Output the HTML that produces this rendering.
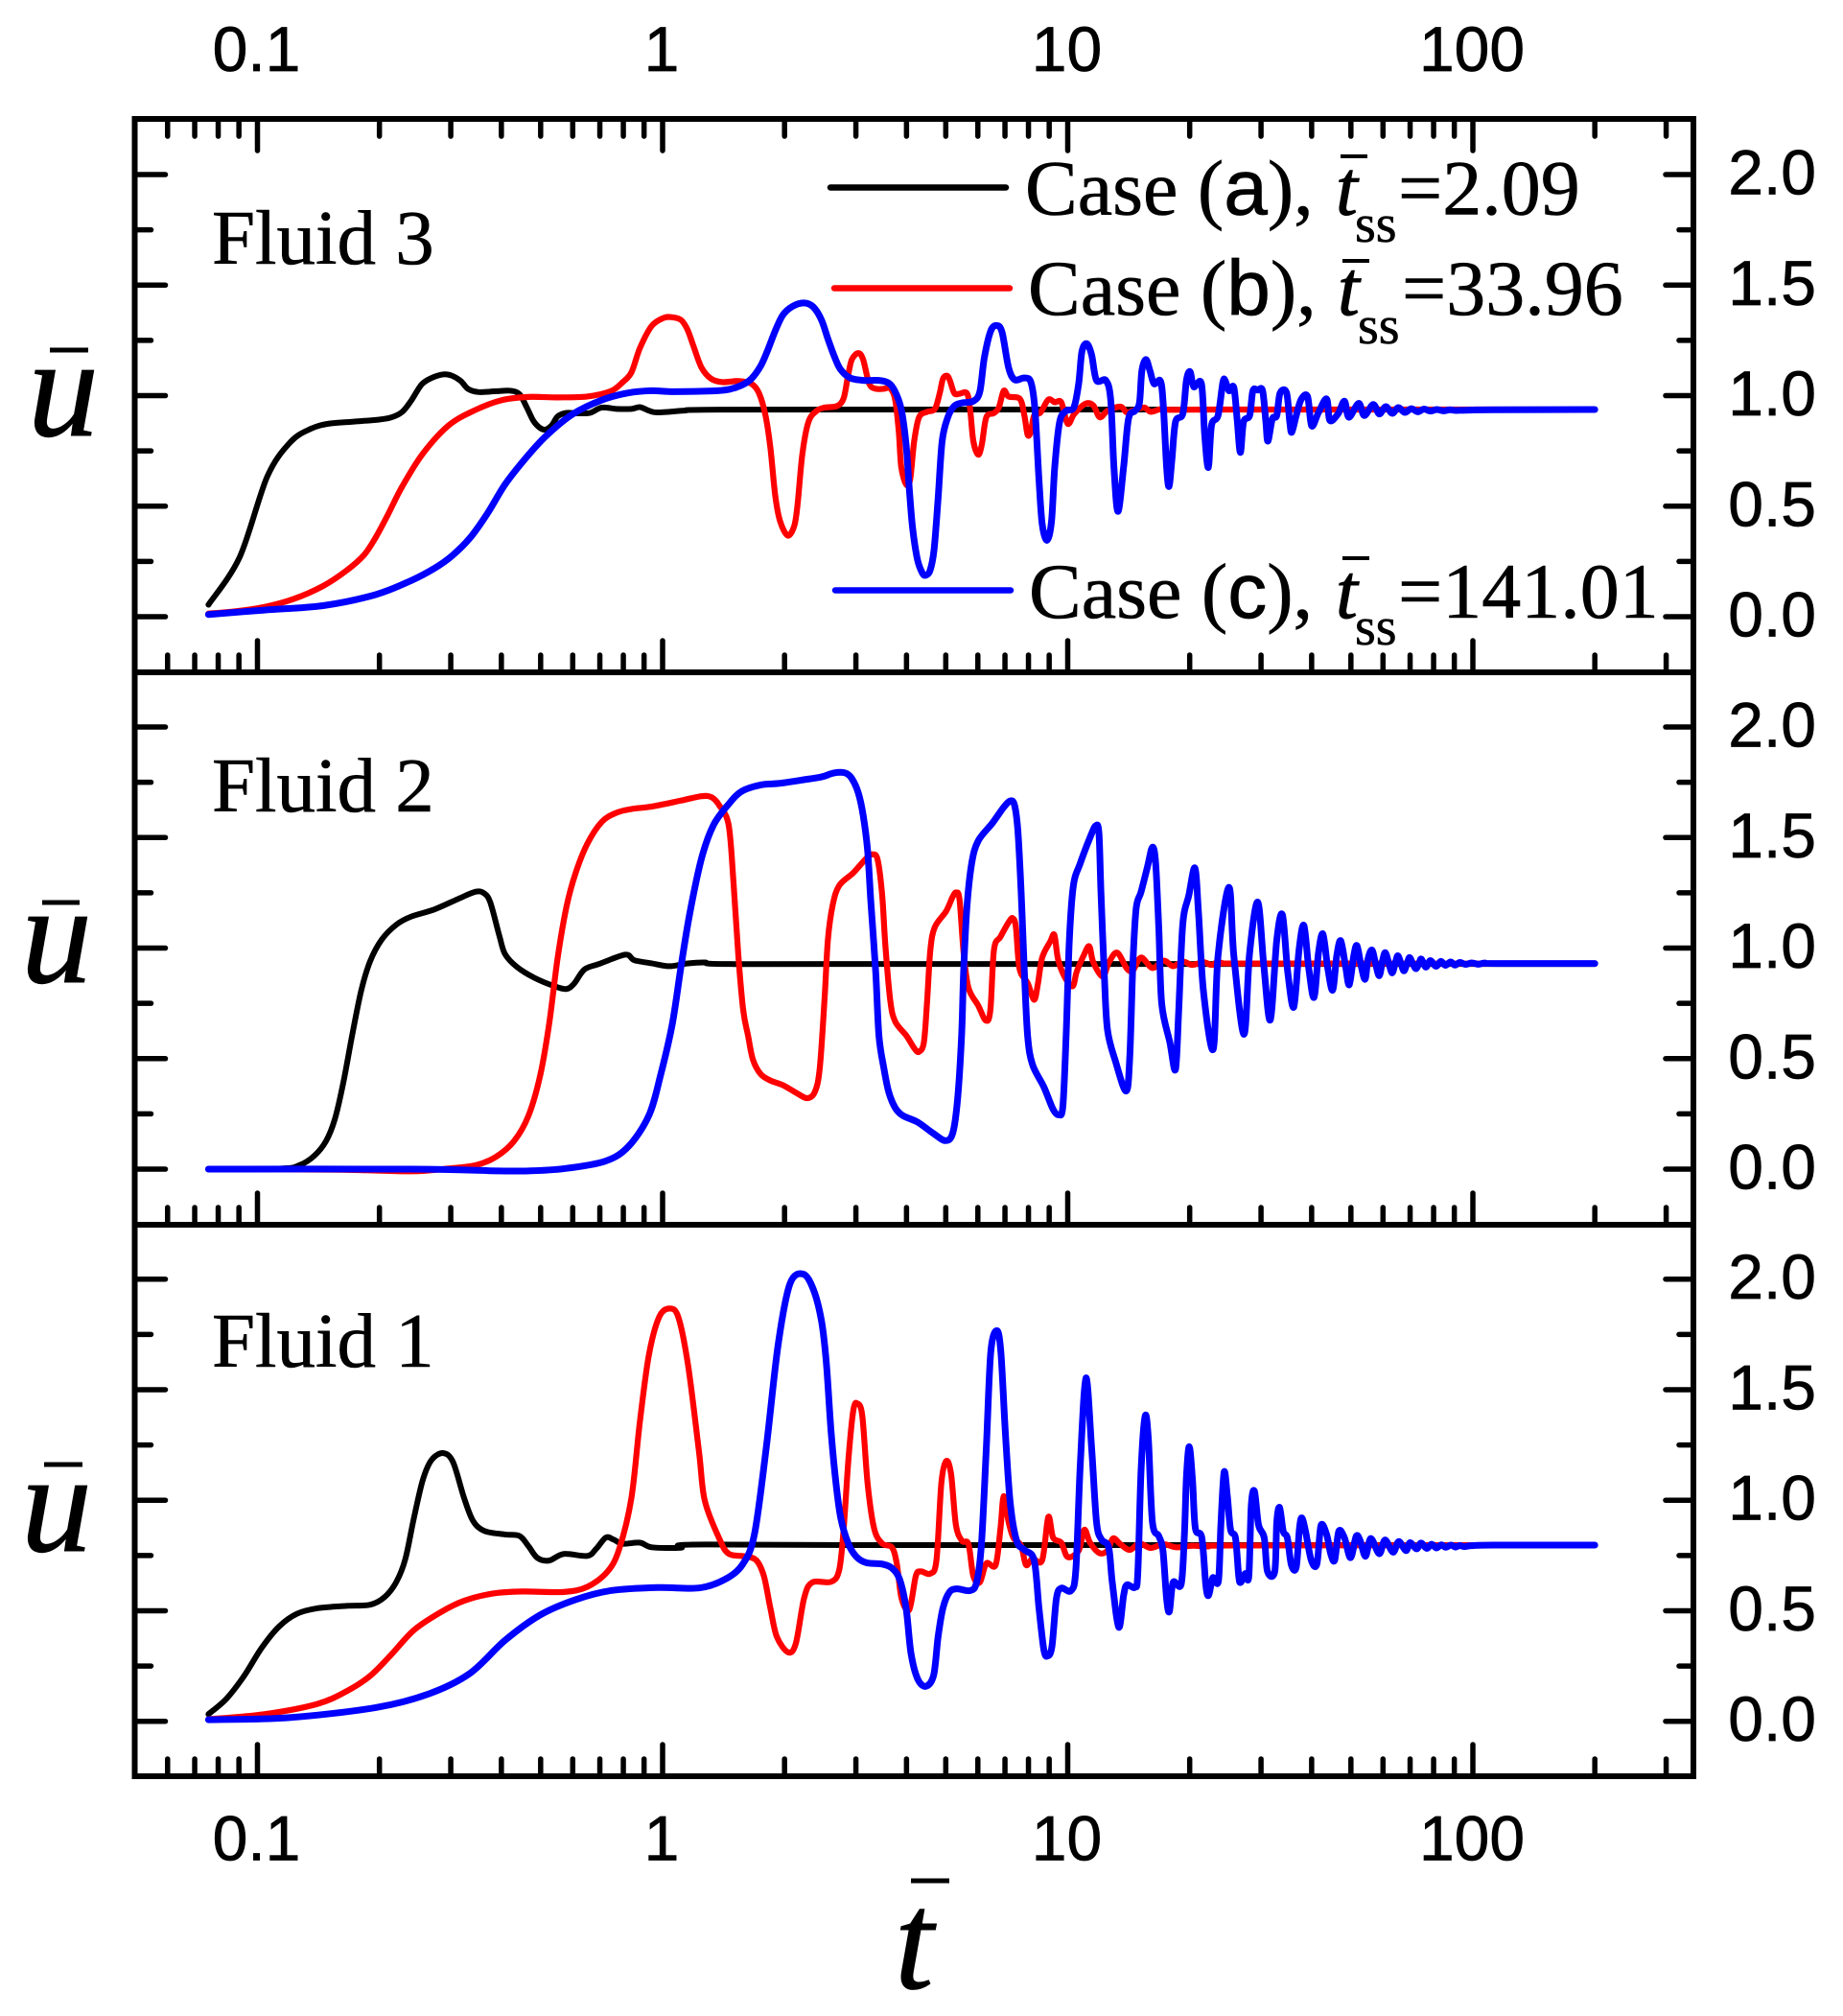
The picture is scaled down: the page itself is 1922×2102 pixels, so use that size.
<!DOCTYPE html>
<html lang="en">
<head>
<meta charset="utf-8">
<title>Velocity response of Fluids 1-3</title>
<style>
html,body{margin:0;padding:0;background:#fff;}
svg{display:block;}
.sans{font-family:"Liberation Sans",Arial,sans-serif;fill:#000;stroke:#000;stroke-width:.7px;}
.serif{font-family:"Liberation Serif","Times New Roman",serif;fill:#000;stroke:#000;stroke-width:.6px;}
.ital{font-family:"Liberation Serif","Times New Roman",serif;font-style:italic;fill:#000;stroke:#000;stroke-width:1px;}
</style>
</head>
<body>
<svg id="chart" xmlns="http://www.w3.org/2000/svg" width="1922" height="2102" viewBox="0 0 1922 2102">
  <rect x="0" y="0" width="1922" height="2102" fill="#fff"/>
  <g id="curves"></g>
  <g id="frames"></g>
  <g id="ticks"></g>
  <g id="ticklabels"></g>

  <text class="serif" x="221" y="275" font-size="81">Fluid 3</text>
  <text class="serif" x="221" y="846" font-size="81">Fluid 2</text>
  <text class="serif" x="221" y="1425" font-size="81">Fluid 1</text>

  <g>
    <text class="ital" x="29" y="454" font-size="148">u</text>
    <line x1="52" y1="365" x2="92" y2="365" stroke="#000" stroke-width="5"/>
  </g>
  <g>
    <text class="ital" x="22" y="1024" font-size="148">u</text>
    <line x1="44" y1="941" x2="83" y2="941" stroke="#000" stroke-width="5"/>
  </g>
  <g>
    <text class="ital" x="22" y="1617" font-size="148">u</text>
    <line x1="46" y1="1527" x2="86" y2="1527" stroke="#000" stroke-width="5"/>
  </g>
  <g>
    <text class="ital" x="933" y="2073" font-size="146">t</text>
    <line x1="950" y1="1961" x2="990" y2="1961" stroke="#000" stroke-width="5"/>
  </g>

  <g>
    <g>
      <line x1="866" y1="195.5" x2="1049" y2="195.5" stroke="#000" stroke-width="6.5" stroke-linecap="round"/>
      <text class="serif" x="1069" y="223.5" font-size="82">Case (<tspan class="sans">a</tspan>),</text>
      <text class="ital" x="1393" y="223.5" font-size="82">t</text>
      <line x1="1398" y1="163" x2="1426" y2="163" stroke="#000" stroke-width="4"/>
      <text class="serif" x="1413" y="252" font-size="56">ss</text>
      <text class="serif" x="1458" y="223.5" font-size="82">=2.09</text>
    </g>
    <g>
      <line x1="870" y1="300.5" x2="1053" y2="300.5" stroke="#f00" stroke-width="6.5" stroke-linecap="round"/>
      <text class="serif" x="1072" y="328" font-size="82">Case (<tspan class="sans">b</tspan>),</text>
      <text class="ital" x="1395" y="328" font-size="82">t</text>
      <line x1="1400" y1="272" x2="1428" y2="272" stroke="#000" stroke-width="4"/>
      <text class="serif" x="1416" y="358" font-size="56">ss</text>
      <text class="serif" x="1462" y="328" font-size="82">=33.96</text>
    </g>
    <g>
      <line x1="871" y1="615.5" x2="1054" y2="615.5" stroke="#00f" stroke-width="6.5" stroke-linecap="round"/>
      <text class="serif" x="1073" y="644" font-size="82">Case (<tspan class="sans">c</tspan>),</text>
      <text class="ital" x="1393" y="644" font-size="82">t</text>
      <line x1="1400" y1="582" x2="1428" y2="582" stroke="#000" stroke-width="4"/>
      <text class="serif" x="1413" y="672" font-size="56">ss</text>
      <text class="serif" x="1458" y="644" font-size="82">=141.01</text>
    </g>
  </g>
</svg>

<script>
// ---- tick data ----
const xMajorTicks = [0.1, 1, 10, 100];
const xMajorLabels = ['0.1', '1', '10', '100'];
const xMinorTicks = [0.06,0.07,0.08,0.09,0.2,0.3,0.4,0.5,0.6,0.7,0.8,0.9,2,3,4,5,6,7,8,9,20,30,40,50,60,70,80,90,200,300];
const yMajorTicks = [0, 0.5, 1, 1.5, 2];
const yMajorLabels = ['0.0', '0.5', '1.0', '1.5', '2.0'];
const yMinorTicks = [0.25, 0.75, 1.25, 1.75];

// ---- Fluid 3 (log10 of t, and u) ----
const f3aLogT = [-1.121,-1.044,-.976,-.918,-.867,-.824,-.766,-.708,-.672,-.643,-.621,-.595,-.570,-.541,-.520,-.498,-.480,-.454,-.411,-.375,-.353,-.335,-.319,-.302,-.288,-.273,-.259,-.237,-.208,-.179,-.150,-.114,-.077,-.056,-.034,-.012,.053,.104,.5,2.301];
const f3aU    = [.054,.269,.633,.791,.851,.873,.882,.890,.900,.926,.976,1.05,1.08,1.096,1.09,1.066,1.03,1.016,1.02,1.022,1.006,.946,.886,.853,.847,.867,.906,.922,.920,.922,.946,.940,.940,.948,.932,.924,.932,.936,.937,.937];

const f3bLogT = [-1.121,-1.056,-.983,-.911,-.838,-.780,-.737,-.708,-.679,-.643,-.592,-.527,-.461,-.396,-.331,-.259,-.186,-.128,-.099,-.077,-.056,-.027,.002,.021,.045,.061,.077,.096,.120,.148,.187,.219,.238,.254,.266,.278,.290,.309,.325,.333,.345,.360,.380,.400,.431,.447,.457,.467,.483,.495,.510,.526,.546,.562,.574,.583,.589,.601,.611,.621,.633,.653,.672,.684,.692,.702,.709,.720,.732,.751,.759,.767,.779,.788,.799,.818,.830,.842,.854,.882,.893,.901,.909,.917,.933,.952,.968,.984,1.0,1.016,1.043,1.063,1.079,1.098,1.13,1.146,1.166,1.189,1.205,1.229,1.252,1.4,2.301];
const f3bU    = [.014,.024,.044,.08,.139,.209,.279,.359,.458,.588,.737,.867,.936,.980,.994,.992,.996,1.02,1.06,1.105,1.215,1.315,1.351,1.355,1.343,1.30,1.22,1.127,1.076,1.061,1.066,1.054,1.011,.91,.765,.548,.432,.367,.411,.505,.736,.881,.931,.946,.953,.989,1.083,1.163,1.192,1.163,1.054,1.031,1.031,1.033,.982,.837,.678,.599,.620,.794,.902,.927,.939,1.011,1.076,1.09,1.069,1.011,1.008,1.011,.939,.794,.733,.779,.902,.921,.946,1.022,.996,.985,.91,.823,.837,.91,.924,.982,.97,.97,.873,.917,.963,.956,.902,.931,.95,.924,.936,.946,.927,.939,.936,.937,.937];

const f3cLogT = [-1.121,-.983,-.838,-.708,-.621,-.563,-.52,-.476,-.432,-.389,-.338,-.288,-.222,-.15,-.085,-.027,.021,.124,.163,.195,.219,.242,.258,.278,.297,.321,.349,.372,.392,.408,.424,.439,.463,.495,.534,.558,.574,.589,.601,.609,.617,.629,.641,.649,.660,.670,.680,.69,.704,.72,.739,.767,.783,.794,.81,.825,.838,.854,.869,.893,.909,.919,.929,.937,.949,.96,.968,.98,.996,1.015,1.027,1.035,1.047,1.059,1.071,1.094,1.106,1.114,1.124,1.138,1.15,1.166,1.177,1.183,1.193,1.203,1.213,1.229,1.236,1.244,1.25,1.257,1.266,1.284,1.293,1.302,1.311,1.33,1.338,1.347,1.355,1.371,1.383,1.389,1.398,1.41,1.418,1.426,1.434,1.449,1.457,1.469,1.481,1.489,1.494,1.505,1.516,1.524,1.54,1.548,1.553,1.564,1.576,1.592,1.602,1.619,1.639,1.647,1.667,1.683,1.694,1.718,1.732,1.754,1.769,1.785,1.801,1.816,1.832,1.848,1.864,1.879,1.895,1.911,1.927,1.943,1.958,2.0,2.05,2.301];
const f3cU    = [.010,.03,.05,.10,.163,.219,.275,.355,.468,.598,.717,.817,.916,.98,1.012,1.022,1.018,1.021,1.028,1.047,1.076,1.134,1.199,1.293,1.365,1.404,1.419,1.401,1.343,1.257,1.177,1.119,1.08,1.069,1.069,1.057,1.018,.939,.779,.577,.403,.259,.198,.187,.208,.302,.534,.794,.902,.953,.967,.975,1.018,1.17,1.293,1.317,1.286,1.127,1.072,1.08,1.061,.939,.62,.418,.346,.432,.678,.881,.931,.946,1.054,1.199,1.235,1.184,1.069,1.069,.982,.678,.476,.678,.895,.931,.967,1.112,1.163,1.112,1.054,1.066,.953,.678,.589,.707,.881,.917,1.069,1.108,1.04,1.054,.823,.675,.866,.91,1.061,1.066,1.022,1.037,.895,.743,.881,.91,1.022,1.025,1.022,.881,.794,.895,.91,1.011,1.014,.881,.834,.91,.982,.996,.863,.924,.985,.888,.917,.975,.902,.965,.91,.96,.917,.95,.92,.946,.924,.941,.927,.939,.93,.937,.931,.936,.933,.935,.936,.937];

// ---- Fluid 2 ----
const f2aLogT = [-1.121,-.94,-.896,-.86,-.831,-.809,-.788,-.766,-.744,-.722,-.693,-.657,-.621,-.563,-.505,-.461,-.44,-.425,-.403,-.389,-.36,-.316,-.266,-.237,-.218,-.193,-.157,-.092,-.07,-.027,.017,.06,.104,.147,.5,2.301];
const f2aU    = [0,.003,.018,.06,.126,.226,.392,.608,.807,.94,1.039,1.106,1.142,1.175,1.222,1.255,1.247,1.205,1.056,.973,.915,.865,.827,.815,.84,.903,.928,.97,.945,.931,.918,.93,.935,.928,.928,.928];

const f2bLogT = [-1.121,-.795,-.621,-.534,-.461,-.411,-.367,-.331,-.302,-.28,-.259,-.237,-.215,-.186,-.15,-.114,-.077,-.027,.045,.096,.121,.14,.163,.175,.187,.199,.211,.223,.242,.266,.298,.329,.357,.376,.388,.4,.408,.42,.436,.471,.503,.519,.531,.542,.55,.562,.574,.602,.622,.633,.645,.653,.661,.672,.7,.716,.725,.733,.743,.755,.779,.798,.809,.818,.834,.854,.864,.872,.881,.901,.917,.926,.937,.957,.967,.976,.992,1.012,1.022,1.039,1.053,1.063,1.086,1.102,1.122,1.146,1.161,1.181,1.209,1.237,1.26,1.284,1.307,1.335,1.355,1.378,1.45,2.301];
const f2bU    = [0,-.003,-.01,.002,.018,.056,.126,.242,.425,.657,.956,1.189,1.338,1.471,1.571,1.612,1.629,1.64,1.667,1.687,1.682,1.645,1.557,1.297,.965,.719,.603,.495,.43,.401,.379,.346,.321,.35,.458,.777,1.037,1.196,1.283,1.341,1.406,1.424,1.398,1.239,1.008,.762,.668,.603,.545,.531,.574,.762,.993,1.095,1.167,1.232,1.251,1.218,.979,.82,.74,.672,.719,.993,1.051,1.116,1.135,1.095,.907,.842,.766,.834,.957,1.03,1.059,.95,.871,.827,.892,.965,1.008,.936,.871,.936,.979,.907,.899,.957,.91,.943,.918,.939,.924,.936,.924,.933,.93,.93];

const f2cLogT = [-1.121,-.621,-.404,-.331,-.244,-.143,-.085,-.034,-.005,.024,.046,.067,.096,.125,.163,.195,.242,.289,.344,.392,.423,.451,.467,.483,.495,.506,.514,.526,.534,.546,.558,.574,.593,.629,.668,.698,.716,.728,.738,.743,.751,.763,.779,.814,.842,.859,.869,.877,.885,.893,.901,.913,.941,.964,.978,.988,.996,1.004,1.014,1.031,1.055,1.069,1.077,1.082,1.09,1.098,1.118,1.144,1.153,1.161,1.169,1.181,1.197,1.209,1.217,1.225,1.232,1.252,1.266,1.274,1.284,1.299,1.314,1.323,1.335,1.359,1.371,1.398,1.41,1.435,1.449,1.469,1.484,1.5,1.516,1.53,1.543,1.558,1.571,1.583,1.595,1.608,1.619,1.63,1.642,1.654,1.664,1.674,1.686,1.695,1.706,1.714,1.724,1.734,1.741,1.751,1.76,1.769,1.777,1.784,1.793,1.801,1.809,1.815,1.823,1.83,1.838,1.844,1.852,1.86,1.868,1.873,1.884,1.895,1.909,1.921,1.932,1.945,1.956,1.968,1.982,1.997,2.013,2.029,2.06,2.301];
const f2cU    = [0,0,-.008,-.008,.002,.035,.101,.242,.425,.657,.923,1.156,1.405,1.554,1.651,1.709,1.738,1.745,1.76,1.774,1.792,1.792,1.767,1.702,1.601,1.442,1.21,.892,.603,.458,.35,.278,.242,.213,.162,.129,.162,.314,.603,.892,1.181,1.384,1.485,1.565,1.637,1.666,1.644,1.529,1.254,.892,.603,.473,.372,.27,.246,.285,.603,1.037,1.283,1.384,1.5,1.553,1.521,1.254,.892,.632,.487,.353,.502,.936,1.181,1.254,1.369,1.456,1.384,1.08,.748,.574,.451,.719,1.109,1.239,1.362,1.153,.805,.542,.965,1.275,.965,.61,.979,1.208,.921,.675,1.037,1.15,.892,.733,.993,1.102,.907,.777,.979,1.063,.907,.81,.965,1.033,.914,.834,.965,1.011,.921,.859,.95,.991,.928,.875,.943,.979,.928,.888,.936,.965,.928,.897,.933,.957,.928,.907,.936,.95,.914,.943,.918,.94,.922,.937,.923,.935,.926,.933,.927,.932,.93,.93];

// ---- Fluid 1 ----
const f1aLogT = [-1.121,-1.077,-1.033,-.99,-.947,-.903,-.853,-.78,-.722,-.686,-.657,-.635,-.614,-.592,-.57,-.541,-.517,-.49,-.468,-.44,-.389,-.353,-.331,-.309,-.28,-.244,-.186,-.164,-.14,-.121,-.099,-.056,-.027,.045,.074,.5,2.301];
const f1aU    = [.032,.101,.205,.331,.428,.486,.511,.522,.527,.562,.631,.734,.918,1.091,1.183,1.213,1.171,1.01,.907,.861,.845,.838,.792,.739,.727,.757,.748,.78,.831,.822,.803,.808,.787,.785,.799,.797,.797];

const f1bLogT = [-1.121,-.983,-.853,-.78,-.722,-.672,-.614,-.548,-.49,-.418,-.345,-.244,-.186,-.136,-.107,-.077,-.056,-.034,-.009,.017,.039,.063,.09,.104,.14,.163,.203,.231,.25,.266,.282,.31,.329,.349,.369,.416,.436,.447,.459,.471,.481,.493,.506,.522,.542,.566,.578,.59,.609,.625,.637,.661,.676,.688,.7,.712,.724,.739,.755,.767,.783,.799,.822,.834,.842,.854,.866,.885,.897,.913,.937,.952,.964,.984,1.0,1.027,1.041,1.055,1.078,1.098,1.112,1.13,1.153,1.177,1.205,1.236,1.268,1.307,1.347,1.4,2.301];
const f1bU    = [.009,.032,.078,.136,.205,.297,.412,.493,.545,.578,.587,.585,.608,.677,.78,1.01,1.356,1.655,1.827,1.867,1.827,1.609,1.217,.999,.826,.758,.746,.729,.657,.512,.382,.312,.353,.555,.628,.631,.685,.873,1.192,1.409,1.437,1.38,1.076,.873,.804,.787,.714,.555,.505,.657,.678,.668,.729,1.076,1.177,1.119,.888,.816,.801,.657,.628,.714,.707,.873,1.018,.902,.83,.794,.707,.736,.729,.924,.83,.808,.743,.772,.866,.808,.761,.772,.827,.801,.775,.804,.784,.801,.787,.794,.791,.795,.797];

const f1cLogT = [-1.121,-.925,-.708,-.577,-.476,-.389,-.302,-.215,-.128,-.012,.09,.154,.198,.227,.256,.285,.314,.347,.372,.392,.404,.416,.428,.44,.459,.479,.503,.542,.566,.585,.601,.613,.629,.649,.669,.68,.692,.708,.727,.759,.775,.787,.799,.81,.825,.835,.846,.858,.874,.893,.917,.929,.941,.95,.961,.972,.984,1.008,1.02,1.031,1.045,1.059,1.071,1.083,1.101,1.11,1.126,1.138,1.146,1.166,1.173,1.181,1.191,1.199,1.209,1.225,1.235,1.244,1.251,1.26,1.28,1.288,1.293,1.3,1.308,1.315,1.331,1.341,1.348,1.358,1.372,1.378,1.386,1.394,1.402,1.414,1.422,1.427,1.438,1.447,1.453,1.461,1.471,1.485,1.493,1.511,1.516,1.523,1.532,1.542,1.552,1.564,1.572,1.578,1.587,1.601,1.615,1.625,1.639,1.649,1.659,1.669,1.683,1.698,1.712,1.722,1.735,1.748,1.769,1.783,1.803,1.817,1.835,1.845,1.861,1.872,1.886,1.898,1.91,1.922,1.933,1.946,1.957,1.967,1.979,1.995,2.05,2.301];
const f1cU    = [.007,.016,.062,.124,.216,.366,.481,.55,.591,.605,.603,.642,.711,.849,1.24,1.701,1.977,2.023,1.954,1.813,1.625,1.307,1.076,.917,.801,.743,.717,.711,.693,.642,.512,.309,.194,.158,.208,.382,.512,.584,.599,.591,.628,.801,1.235,1.669,1.767,1.669,1.307,.989,.816,.775,.729,.512,.324,.295,.338,.555,.602,.591,.685,1.163,1.553,1.235,.902,.823,.787,.628,.425,.57,.617,.606,.671,1.134,1.38,1.278,.902,.837,.772,.555,.497,.628,.62,.845,1.105,1.242,1.09,.873,.83,.613,.57,.649,.635,.888,1.127,1.018,.866,.83,.657,.628,.668,.657,.975,1.04,.888,.83,.678,.678,.902,.967,.859,.83,.707,.697,.873,.92,.859,.729,.711,.885,.845,.758,.729,.859,.83,.74,.837,.816,.746,.827,.758,.82,.765,.813,.772,.808,.78,.806,.782,.801,.784,.798,.787,.797,.788,.795,.79,.794,.797,.797];

// ---- axis functions ----
function xFromLog(lg){ return 691 + 422.5 * lg; }
function xFromT(t){ return xFromLog(Math.log10(t)); }
function yFromU(zeroY, u){ return zeroY - 230.5 * u; }

// ---- layout ----
const frameLeft = 140.5, frameRight = 1766;
const panelTop = [124, 701, 1277];
const panelBottom = [701, 1277, 1852];
const panelZero = [643, 1219, 1794.7];
const panelName = ['fluid-3', 'fluid-2', 'fluid-1'];

const NS = 'http://www.w3.org/2000/svg';
const curvesG = document.getElementById('curves');
const framesG = document.getElementById('frames');
const ticksG = document.getElementById('ticks');
const labelsG = document.getElementById('ticklabels');

function curvePath(zeroY, logT, u){
  const n = Math.min(logT.length, u.length);
  const p = [];
  for (let i = 0; i < n; i++) p.push([xFromLog(logT[i]), yFromU(zeroY, u[i])]);
  let d = 'M' + p[0][0].toFixed(2) + ' ' + p[0][1].toFixed(2);
  const k = 1 / 6.2;
  for (let i = 0; i < n - 1; i++) {
    const p0 = p[Math.max(i - 1, 0)], p1 = p[i], p2 = p[i + 1], p3 = p[Math.min(i + 2, n - 1)];
    const c1x = p1[0] + (p2[0] - p0[0]) * k, c1y = p1[1] + (p2[1] - p0[1]) * k;
    const c2x = p2[0] - (p3[0] - p1[0]) * k, c2y = p2[1] - (p3[1] - p1[1]) * k;
    d += 'C' + c1x.toFixed(2) + ' ' + c1y.toFixed(2) + ' ' + c2x.toFixed(2) + ' ' + c2y.toFixed(2) + ' ' + p2[0].toFixed(2) + ' ' + p2[1].toFixed(2);
  }
  return d;
}

function addCurve(name, zeroY, logT, u, color, width){
  const el = document.createElementNS(NS, 'path');
  
  
  el.setAttribute('d', curvePath(zeroY, logT, u));
  el.setAttribute('fill', 'none');
  el.setAttribute('stroke', color);
  el.setAttribute('stroke-width', width);
  el.setAttribute('stroke-linejoin', 'round');
  el.setAttribute('stroke-linecap', 'round');
  curvesG.appendChild(el);
}

addCurve('fluid-3-case-a-curve', panelZero[0], f3aLogT, f3aU, '#000', 6);
addCurve('fluid-3-case-b-curve', panelZero[0], f3bLogT, f3bU, '#f00', 6.2);
addCurve('fluid-3-case-c-curve', panelZero[0], f3cLogT, f3cU, '#00f', 7);
addCurve('fluid-2-case-a-curve', panelZero[1], f2aLogT, f2aU, '#000', 6);
addCurve('fluid-2-case-b-curve', panelZero[1], f2bLogT, f2bU, '#f00', 6.2);
addCurve('fluid-2-case-c-curve', panelZero[1], f2cLogT, f2cU, '#00f', 7);
addCurve('fluid-1-case-a-curve', panelZero[2], f1aLogT, f1aU, '#000', 6);
addCurve('fluid-1-case-b-curve', panelZero[2], f1bLogT, f1bU, '#f00', 6.2);
addCurve('fluid-1-case-c-curve', panelZero[2], f1cLogT, f1cU, '#00f', 7);

function addTick(name, x1, y1, x2, y2){
  const el = document.createElementNS(NS, 'line');
  
  
  el.setAttribute('x1', x1);
  el.setAttribute('y1', y1);
  el.setAttribute('x2', x2);
  el.setAttribute('y2', y2);
  el.setAttribute('stroke', '#000');
  el.setAttribute('stroke-width', 5.5);
  el.setAttribute('stroke-linecap', 'round');
  ticksG.appendChild(el);
}

function addLabel(name, text, x, y, anchor, size){
  const el = document.createElementNS(NS, 'text');
  
  
  el.setAttribute('class', 'sans');
  el.setAttribute('x', x);
  el.setAttribute('y', y);
  el.setAttribute('text-anchor', anchor);
  el.setAttribute('font-size', size);
  el.textContent = text;
  labelsG.appendChild(el);
}

for (let i = 0; i < panelTop.length; i++) {
  const frame = document.createElementNS(NS, 'rect');
  
  
  frame.setAttribute('x', frameLeft);
  frame.setAttribute('y', panelTop[i]);
  frame.setAttribute('width', frameRight - frameLeft);
  frame.setAttribute('height', panelBottom[i] - panelTop[i]);
  frame.setAttribute('fill', 'none');
  frame.setAttribute('stroke', '#000');
  frame.setAttribute('stroke-width', 6);
  framesG.appendChild(frame);

  // bottom x ticks
  xMajorTicks.forEach(function (t) {
    addTick(panelName[i] + '-x-major-tick', xFromT(t), panelBottom[i], xFromT(t), panelBottom[i] - 33);
  });
  xMinorTicks.forEach(function (t) {
    addTick(panelName[i] + '-x-minor-tick', xFromT(t), panelBottom[i], xFromT(t), panelBottom[i] - 18);
  });

  // y ticks on both sides
  yMajorTicks.forEach(function (u, j) {
    const y = yFromU(panelZero[i], u);
    addTick(panelName[i] + '-y-major-tick-left', frameLeft, y, frameLeft + 32, y);
    addTick(panelName[i] + '-y-major-tick-right', frameRight, y, frameRight - 29, y);
    addLabel(panelName[i] + '-y-tick-label', yMajorLabels[j], 1894, y + 20.5, 'end', 66);
  });
  yMinorTicks.forEach(function (u) {
    const y = yFromU(panelZero[i], u);
    addTick(panelName[i] + '-y-minor-tick-left', frameLeft, y, frameLeft + 17, y);
    addTick(panelName[i] + '-y-minor-tick-right', frameRight, y, frameRight - 15, y);
  });
}

// top x ticks (upper panel only)
xMajorTicks.forEach(function (t) {
  addTick('top-x-major-tick', xFromT(t), panelTop[0], xFromT(t), panelTop[0] + 33);
});
xMinorTicks.forEach(function (t) {
  addTick('top-x-minor-tick', xFromT(t), panelTop[0], xFromT(t), panelTop[0] + 18);
});

// x tick labels, top and bottom
xMajorTicks.forEach(function (t, j) {
  addLabel('top-x-tick-label', xMajorLabels[j], xFromT(t) - 1, 74, 'middle', 66);
  addLabel('bottom-x-tick-label', xMajorLabels[j], xFromT(t) - 1, 1939.5, 'middle', 66);
});
</script>
</body>
</html>
